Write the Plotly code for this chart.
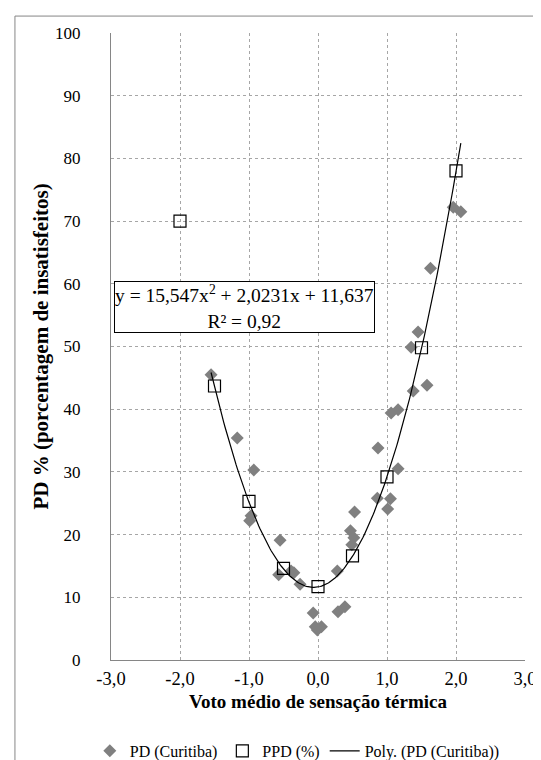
import numpy as np
import plotly.graph_objects as go

# PD (Curitiba) observations
pd_x = [-1.55, -1.17, -0.93, -0.97, -0.99, -0.55, -0.57, -0.39, -0.35, -0.26,
        -0.07, -0.04, -0.01, 0.05, 0.28, 0.29, 0.39, 0.47, 0.49, 0.52, 0.53,
        0.86, 0.87, 1.01, 1.05, 1.06, 1.16, 1.16, 1.35, 1.38, 1.45, 1.58,
        1.63, 1.96, 2.07]
pd_y = [45.5, 35.4, 30.3, 23.0, 22.2, 19.1, 13.6, 14.2, 13.9, 12.1,
        7.5, 5.3, 4.8, 5.3, 14.2, 7.7, 8.5, 20.6, 18.4, 19.5, 23.6,
        25.8, 33.8, 24.1, 25.7, 39.4, 39.9, 30.5, 49.9, 42.9, 52.3, 43.8,
        62.5, 72.2, 71.5]

# PPD (%)
ppd_x = [-2.0, -1.5, -1.0, -0.5, 0.0, 0.5, 1.0, 1.5, 2.0]
ppd_y = [70.0, 43.7, 25.3, 14.6, 11.7, 16.6, 29.2, 49.8, 78.0]

# Polynomial trendline coefficients (as printed on the chart)
poly_coef = [15.547, 2.0231, 11.637]

x_ticks = [-3, -2, -1, 0, 1, 2, 3]
x_ticktext = ["-3,0", "-2,0", "-1,0", "0,0", "1,0", "2,0", "3,0"]
y_ticks = list(range(0, 101, 10))

fx = np.linspace(min(pd_x), max(pd_x), 200)
fy = np.polyval(poly_coef, fx)

FONT = "Liberation Serif"

fig = go.Figure()
fig.add_trace(go.Scatter(x=pd_x, y=pd_y, mode="markers", name="PD (Curitiba)",
                         marker=dict(symbol="diamond", size=10, color="#808080")))
fig.add_trace(go.Scatter(x=ppd_x, y=ppd_y, mode="markers", name="PPD (%)",
                         marker=dict(symbol="square-open", size=12, color="#000000",
                                     line=dict(width=1.2, color="#000000"))))
fig.add_trace(go.Scatter(x=fx, y=fy, mode="lines", name="Poly. (PD (Curitiba))",
                         line=dict(color="#000000", width=1.2)))

fig.update_layout(
    width=541, height=760,
    margin=dict(l=103, r=24, t=25, b=108, autoexpand=False),
    paper_bgcolor="white", plot_bgcolor="white",
    font=dict(family=FONT, size=17, color="#000000"),
    showlegend=True,
    legend=dict(orientation="h", x=0.45, xanchor="center", y=-0.145, yanchor="middle",
                font=dict(family=FONT, size=16), itemwidth=30,
                bgcolor="rgba(0,0,0,0)"),
    xaxis=dict(range=[-3, 3], tickvals=x_ticks, ticktext=x_ticktext,
               showgrid=True, gridcolor="#a6a6a6", griddash="dot", gridwidth=1,
               showline=True, linecolor="#868686", linewidth=1, zeroline=False,
               ticks="", tickfont=dict(family=FONT, size=18.5), automargin=False,
               ticklabelstandoff=2,
               title=dict(text="<b>Voto médio de sensação térmica</b>",
                          font=dict(family=FONT, size=19), standoff=6)),
    yaxis=dict(range=[0, 100], tickvals=y_ticks,
               showgrid=True, gridcolor="#a6a6a6", griddash="dot", gridwidth=1,
               showline=True, linecolor="#868686", linewidth=1, zeroline=False,
               ticks="", tickfont=dict(family=FONT, size=17), ticklabelstandoff=26,
               automargin=False,
               title=dict(text="<b>PD % (porcentagem de insatisfeitos)</b>",
                          font=dict(family=FONT, size=21), standoff=0)),
)

fig.add_annotation(x=-1.07, y=56.3, xref="x", yref="y",
                   text="y = 15,547x<sup>2</sup> + 2,0231x + 11,637<br>R² = 0,92",
                   showarrow=False, font=dict(family=FONT, size=19.5, color="#000000"),
                   bordercolor="#000000", borderwidth=1, borderpad=0,
                   bgcolor="white", align="center")

# chart frame
fig.add_shape(type="rect", xref="paper", yref="paper",
              x0=-0.232, x1=1.055, y0=-0.172, y1=1.027,
              line=dict(color="#868686", width=1), layer="below")

fig.write_html("out.html")
